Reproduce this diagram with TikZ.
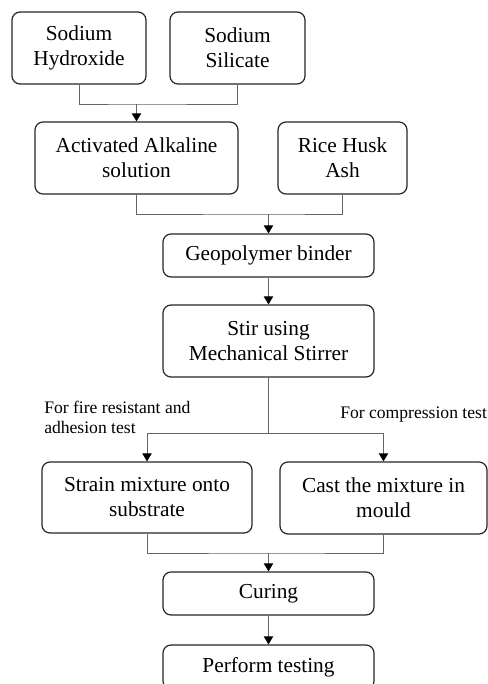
\documentclass[tikz,border=0pt]{standalone}
\usepackage{fontspec}
\setmainfont{Liberation Serif}
\usetikzlibrary{arrows.meta}
\begin{document}
\begin{tikzpicture}[x=0.75pt,y=-0.75pt,
  box/.style={draw=black!85,line width=0.9pt,rounded corners=6pt,align=center,
    font=\fontsize{16}{18.75}\selectfont,inner sep=0pt},
  conn/.style={draw=black!60,line width=0.7pt},
  arr/.style={conn,-{Triangle[length=6pt,width=7pt,fill=black,color=black]}},
  lbl/.style={font=\fontsize{13.2}{15}\selectfont,inner sep=0pt,align=left}]
\useasboundingbox (0,0) rectangle (488,684);
\clip (0,0) rectangle (488,684);
\node[box,minimum width=134*0.75pt,minimum height=72*0.75pt] (n1) at (79,48) {Sodium\\Hydroxide};
\node[box,minimum width=135*0.75pt,minimum height=72*0.75pt] (n2) at (237.5,48) {Sodium\\Silicate};
\node[box,minimum width=203*0.75pt,minimum height=72*0.75pt] (n3) at (136.5,158) {Activated Alkaline\\solution};
\node[box,minimum width=129*0.75pt,minimum height=72*0.75pt] (n4) at (342.5,158) {Rice Husk\\Ash};
\node[box,minimum width=211*0.75pt,minimum height=43*0.75pt] (n5) at (268.5,255.5) {Geopolymer binder};
\node[box,minimum width=211*0.75pt,minimum height=72*0.75pt] (n6) at (268.5,341) {Stir using\\Mechanical Stirrer};
\node[box,minimum width=210*0.75pt,minimum height=71*0.75pt] (n7) at (147,497.5) {Strain mixture onto\\substrate};
\node[box,minimum width=207*0.75pt,minimum height=72*0.75pt] (n8) at (383.5,498) {Cast the mixture in\\mould};
\node[box,minimum width=211*0.75pt,minimum height=43*0.75pt] (n9) at (268.5,593.5) {Curing};
\node[box,minimum width=211*0.75pt,minimum height=44*0.75pt] (n10) at (268.5,667) {Perform testing};
\node[lbl,anchor=north west] (l1) at (44,401) {For fire resistant and\\adhesion test};
\node[lbl,anchor=base west] (l2) at (340,418) {For compression test};
\coordinate (m1) at (136.5,104);
\coordinate (m2) at (268.5,214);
\coordinate (s1) at (268.5,433);
\coordinate (m3) at (268.5,553);
% merges
\draw[conn] (n1.south) |- (m1) -| (n2.south);
\draw[arr] (m1) -- (n3.north);
\draw[conn] (n3.south) |- (m2) -| (n4.south);
\draw[arr] (m2) -- (n5.north);
\draw[arr] (n5.south) -- (n6.north);
\draw[conn] (n6.south) -- (s1);
\draw[arr] (s1) -| (n7.north);
\draw[arr] (s1) -| (n8.north);
\draw[conn] (n7.south) |- (m3) -| (n8.south);
\draw[arr] (m3) -- (n9.north);
\draw[arr] (n9.south) -- (n10.north);
\end{tikzpicture}
\end{document}
